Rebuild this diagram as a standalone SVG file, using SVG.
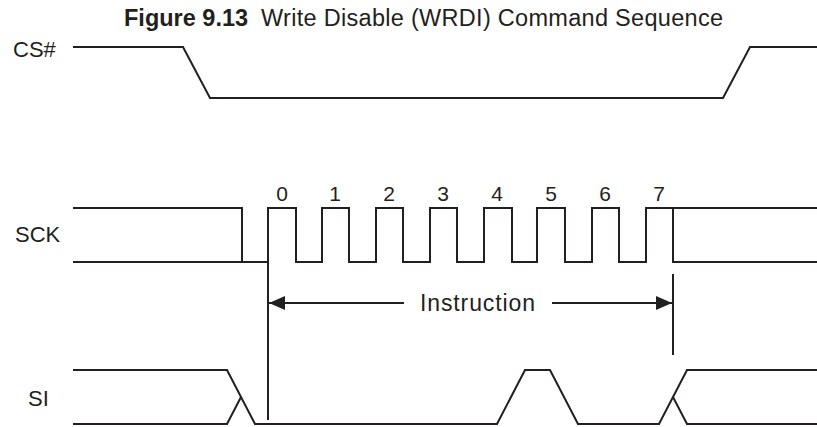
<svg xmlns="http://www.w3.org/2000/svg" width="817" height="427" viewBox="0 0 817 427">
<style>
.w{fill:none;stroke:#231f20;stroke-width:2;stroke-linejoin:miter;stroke-linecap:butt}
.t{font-family:"Liberation Sans",Arial,sans-serif;fill:#231f20}
.lbl{font-size:22px}
.num{font-size:21px;text-anchor:middle}
</style>
<defs>
<marker id="ah" viewBox="0 0 16 14" refX="16" refY="7" markerWidth="16" markerHeight="14" markerUnits="userSpaceOnUse" orient="auto">
<path d="M0,0 L16,7 L0,14 Z" fill="#231f20"/>
</marker>
</defs>
<rect width="817" height="427" fill="#ffffff"/>
<g id="title">
<text class="t" y="26" font-size="23.5"><tspan x="124" font-weight="bold">Figure 9.13</tspan><tspan x="261" textLength="462" lengthAdjust="spacing">Write Disable (WRDI) Command Sequence</tspan></text>
</g>
<g id="labels">
<text class="t lbl" x="13" y="57">CS#</text>
<text class="t lbl" x="15" y="242">SCK</text>
<text class="t lbl" x="28" y="406">SI</text>
</g>
<g id="cs">
<path class="w" d="M73,47 H183 L210,98 H723 L750,47 H817"/>
</g>
<g id="sck">
<path class="w" d="M73,208 H242 V262 M73,262 H268 V208 H296 V262 H322 V208 H349 V262 H376 V208 H403 V262 H430 V208 H457 V262 H484 V208 H512 V262 H537 V208 H565 V262 H592 V208 H619 V262 H646 V208 H817 M673,208 V262 H817"/>
<g class="t num">
<text x="282" y="201">0</text>
<text x="335" y="201">1</text>
<text x="389" y="201">2</text>
<text x="443" y="201">3</text>
<text x="497" y="201">4</text>
<text x="551" y="201">5</text>
<text x="605" y="201">6</text>
<text x="659" y="201">7</text>
</g>
</g>
<g id="si">
<path class="w" d="M73,370 H227 L255,424 H497 L525,370 H550 L578,424 H659 L687,370 H817 M73,424 H227 L241,397 M673,397 L687,424 H817"/>
</g>
<g id="connectors">
<path class="w" d="M268,262 V420"/>
<path class="w" d="M673,274 V355"/>
<path class="w" d="M404,303 H269" marker-end="url(#ah)"/>
<path class="w" d="M552,303 H672" marker-end="url(#ah)"/>
<text class="t" font-size="23" x="420" y="311" textLength="115" lengthAdjust="spacing">Instruction</text>
</g>
</svg>
